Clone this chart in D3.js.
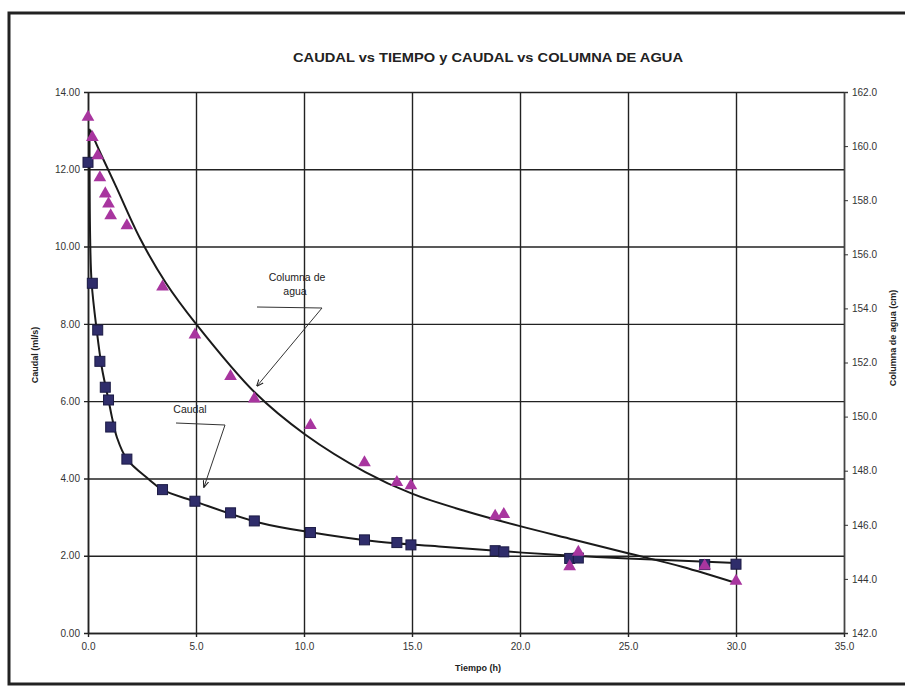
<!DOCTYPE html>
<html>
<head>
<meta charset="utf-8">
<script src="https://cdn.jsdelivr.net/npm/d3@7"></script>
<style>
  body { margin: 0; background: #fff; }
  svg { display: block; }
  text { font-family: "Liberation Sans Narrow", "Arial Narrow", "Liberation Sans", Arial, sans-serif; fill: #222; }
</style>
</head>
<body>
<svg id="chart" width="905" height="690"></svg>
<script>
// measured points (time in h)
var tiempo = [0, 0.2, 0.45, 0.55, 0.8, 0.95, 1.05, 1.8, 3.45, 4.95, 6.6, 7.7, 10.3, 12.8, 14.3, 14.95, 18.85, 19.25, 22.3, 22.7, 28.55, 30.0];
var caudal = [12.18, 9.05, 7.84, 7.03, 6.36, 6.03, 5.33, 4.5, 3.71, 3.41, 3.11, 2.9, 2.6, 2.41, 2.34, 2.28, 2.13, 2.1, 1.93, 1.94, 1.77, 1.78];
var columna = [161.07, 160.32, 159.65, 158.84, 158.24, 157.87, 157.43, 157.06, 154.8, 153.02, 151.49, 150.66, 149.68, 148.3, 147.57, 147.45, 146.32, 146.39, 144.46, 144.99, 144.48, 143.92];

// trend lines
var tCurvaQ = [0.07, 0.1, 0.17, 0.4, 0.64, 0.96, 1.11, 1.34, 1.8, 2.81, 3.44, 4.97, 7.9, 10.37, 13.46, 16.24, 20.1, 22.7, 25, 30];
var curvaQ = [13.05, 10.2, 9.05, 7.85, 6.87, 6.0, 5.58, 5.06, 4.5, 3.98, 3.71, 3.4, 2.86, 2.6, 2.36, 2.24, 2.08, 1.99, 1.93, 1.81];
var tCurvaH = [0.1, 0.6, 1.3, 2.4, 3.6, 5, 7.75, 10.05, 12.84, 15, 17.5, 20, 22.5, 25, 27.5, 30];
var curvaH = [160.6, 159.7, 158.5, 156.6, 154.95, 153.43, 150.87, 149.34, 147.95, 147.15, 146.5, 145.95, 145.45, 144.95, 144.45, 143.85];

var xTicks = [0, 5, 10, 15, 20, 25, 30, 35];
var yTicks = [0, 2, 4, 6, 8, 10, 12, 14];
var y2Ticks = [142, 144, 146, 148, 150, 152, 154, 156, 158, 160, 162];

var svg = d3.select('#chart');
var x = d3.scaleLinear().domain([0, 35]).range([88, 844]);
var y = d3.scaleLinear().domain([0, 14]).range([633, 92]);
var y2 = d3.scaleLinear().domain([142, 162]).range([633, 92]);

// outer frame
svg.append('rect').attr('x', 9).attr('y', 13).attr('width', 905).attr('height', 671)
  .style('fill', 'none').style('stroke', '#222').style('stroke-width', 3);

svg.append('text').attr('x', 488).attr('y', 62).attr('text-anchor', 'middle')
  .attr('textLength', 390).attr('lengthAdjust', 'spacingAndGlyphs')
  .style('font-size', '13px').style('font-weight', 'bold')
  .text('CAUDAL vs TIEMPO y CAUDAL vs COLUMNA DE AGUA');

// grid + axes
var gx = svg.append('g').attr('transform', 'translate(0,' + y(0) + ')')
  .call(d3.axisBottom(x).tickValues(xTicks).tickFormat(d3.format('.1f'))
    .tickSizeInner(-(y(0) - y(14))).tickSizeOuter(0).tickPadding(10));
gx.selectAll('line').style('stroke', '#222').style('stroke-width', 1.4)
  .attr('y2', (d) => -(y(0) - y(14))).attr('y1', 4);
gx.select('.domain').style('stroke', '#222').style('stroke-width', 1.4);
gx.selectAll('text').style('font-size', '10px').style('fill', '#333');

var gy = svg.append('g').attr('transform', 'translate(' + x(0) + ',0)')
  .call(d3.axisLeft(y).tickValues(yTicks).tickFormat(d3.format('.2f'))
    .tickSizeInner(-(x(35) - x(0))).tickSizeOuter(0).tickPadding(8));
gy.selectAll('line').style('stroke', '#222').style('stroke-width', 1.4)
  .attr('x1', -4);
gy.select('.domain').style('stroke', '#222').style('stroke-width', 1.6);
gy.selectAll('text').style('font-size', '10px').style('fill', '#333');

var gy2 = svg.append('g').attr('transform', 'translate(' + x(35) + ',0)')
  .call(d3.axisRight(y2).tickValues(y2Ticks).tickFormat(d3.format('.1f'))
    .tickSize(4).tickPadding(4));
gy2.selectAll('line').style('stroke', '#333');
gy2.select('.domain').style('stroke', '#444').style('stroke-width', 1.4);
gy2.selectAll('text').style('font-size', '10px').style('fill', '#333');

// axis titles
svg.append('text').attr('transform', 'translate(38,355) rotate(-90)').attr('text-anchor', 'middle')
  .style('font-size', '9px').style('font-weight', 'bold').text('Caudal (ml/s)');
svg.append('text').attr('transform', 'translate(896,338) rotate(-90)').attr('text-anchor', 'middle')
  .style('font-size', '9px').style('font-weight', 'bold').text('Columna de agua (cm)');
svg.append('text').attr('x', 478).attr('y', 671).attr('text-anchor', 'middle')
  .style('font-size', '9px').style('font-weight', 'bold').text('Tiempo (h)');

// fitted curves
var lineQ = d3.line().x((d) => x(d[0])).y((d) => y(d[1])).curve(d3.curveCatmullRom.alpha(0.5));
var lineH = d3.line().x((d) => x(d[0])).y((d) => y2(d[1])).curve(d3.curveCatmullRom.alpha(0.5));
svg.append('path').datum(d3.zip(tCurvaH, curvaH)).attr('d', lineH)
  .style('fill', 'none').style('stroke', '#1a1a1a').style('stroke-width', 2);
svg.append('path').datum(d3.zip(tCurvaQ, curvaQ)).attr('d', lineQ)
  .style('fill', 'none').style('stroke', '#1a1a1a').style('stroke-width', 2);

// markers
var sq = svg.append('g').selectAll('rect').data(d3.zip(tiempo, caudal)).enter().append('rect')
  .attr('x', (d) => x(d[0]) - 5).attr('y', (d) => y(d[1]) - 5).attr('width', 10).attr('height', 10)
  .style('fill', '#2f2d6b').style('stroke', '#1c1b45').style('stroke-width', 1);
var tri = d3.symbol().type(d3.symbolTriangle).size(70);
svg.append('g').selectAll('path').data(d3.zip(tiempo, columna)).enter().append('path')
  .attr('d', tri).attr('transform', (d) => 'translate(' + x(d[0]) + ',' + y2(d[1]) + ')')
  .style('fill', '#a8359f');

// labels with leaders
var defs = svg.append('defs');
defs.append('marker').attr('id', 'arr').attr('viewBox', '0 0 10 10').attr('refX', 9).attr('refY', 5)
  .attr('markerWidth', 7).attr('markerHeight', 7).attr('orient', 'auto')
  .append('path').attr('d', 'M0,1 L10,5 L0,9').style('fill', 'none').style('stroke', '#222').style('stroke-width', 1.5);

svg.append('text').attr('x', 297).attr('y', 281).attr('text-anchor', 'middle').style('font-size', '10.5px').text('Columna de');
svg.append('text').attr('x', 295).attr('y', 295).attr('text-anchor', 'middle').style('font-size', '10.5px').text('agua');
svg.append('path').attr('d', 'M257,307 L322,308 L257,386').attr('marker-end', 'url(#arr)')
  .style('fill', 'none').style('stroke', '#333').style('stroke-width', 1);

svg.append('text').attr('x', 190).attr('y', 413).attr('text-anchor', 'middle').style('font-size', '10.5px').text('Caudal');
svg.append('path').attr('d', 'M176,423 L225,425 L204,487').attr('marker-end', 'url(#arr)')
  .style('fill', 'none').style('stroke', '#333').style('stroke-width', 1);
</script>
</body>
</html>
